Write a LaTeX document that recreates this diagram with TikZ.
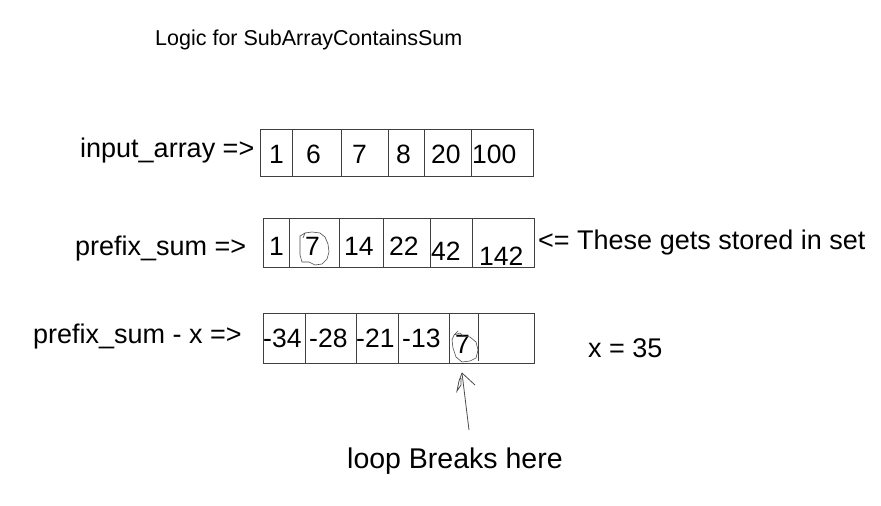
\documentclass[tikz,border=0pt]{standalone}
\usepackage{fontspec}
\setmainfont{Liberation Sans}
\begin{document}
\begin{tikzpicture}[x=1pt,y=-1pt,
  txt/.style={anchor=base west,inner sep=0pt,font=\fontsize{27}{32}\selectfont},
  num/.style={anchor=base west,inner sep=0pt,font=\fontsize{26.5}{32}\selectfont},
  big/.style={anchor=base west,inner sep=0pt,font=\fontsize{28.5}{34}\selectfont},
  ttl/.style={anchor=base west,inner sep=0pt,font=\fontsize{21.5}{26}\selectfont},
  boxline/.style={draw=black!75,line width=0.9pt},
  hand/.style={draw=black!70,line width=0.6pt}]
\useasboundingbox (0,0) rectangle (881,506);
\fill[white] (0,0) rectangle (881,506);

\node[ttl] (title) at (155,45) {Logic for SubArrayContainsSum};

% row 1
\node[txt] (lab1) at (80,157) {input\_array =>};
\draw[boxline] (260,129) rectangle (533,176);
\foreach \xx in {292,341,388,424,471}{\draw[boxline] (\xx,129) -- (\xx,176);}
\node[num] (a1) at (269,163) {1};
\node[num] (a2) at (306,163) {6};
\node[num] (a3) at (352,163) {7};
\node[num] (a4) at (396,163) {8};
\node[num] (a5) at (431,163) {20};
\node[num] (a6) at (472,163) {100};

% row 2
\node[txt] (lab2) at (75,255) {prefix\_sum =>};
\draw[boxline] (263,218) rectangle (534,267);
\foreach \xx in {289,339,383,430,472}{\draw[boxline] (\xx,218) -- (\xx,268);}
\node[num] (b1) at (269,255) {1};
\node[num] (b2) at (305,255) {7};
\node[num] (b3) at (344,255) {14};
\node[num] (b4) at (389,255) {22};
\node[num] (b5) at (431,260) {42};
\node[num] (b6) at (479,265) {142};
\node[txt] (note) at (538,249) {<= These gets stored in set};
\draw[hand] (305,233) -- (312,232) -- (320,233) -- (325,237) -- (328,244) -- (329,252) -- (327,259) -- (322,264) -- (315,265) -- (309,262) -- (302,262) -- (300,255) -- (300,245) -- (300,236) -- (305,233) -- (303,238);

% row 3
\node[txt] (lab3) at (33,343) {prefix\_sum - x =>};
\draw[boxline] (263,313) rectangle (534,363);
\foreach \xx in {305,356,398,449}{\draw[boxline] (\xx,313) -- (\xx,363);}
\draw[boxline] (478,313) -- (478,361);
\node[num] (c1) at (263,347) {-34};
\node[num] (c2) at (309,347) {-28};
\node[num] (c3) at (356,347) {-21};
\node[num] (c4) at (402,347) {-13};
\node[num] (c5) at (455,353) {7};
\draw[hand] (454,335) -- (460,333) -- (463,336) -- (470,337) -- (476,342) -- (478,350) -- (476,358) -- (470,361) -- (462,362) -- (456,357) -- (453,348) -- (452,340) -- (454,335) -- (458,331);

\node[txt] (xval) at (588,357) {x = 35};

% arrow
\coordinate (tip) at (462,373);
\coordinate (tail) at (469,430);
\coordinate (rb) at (475,385);
\draw[black!70,line width=0.8pt] (tail) -- (tip);
\draw[black!70,line width=0.8pt] (tip) -- (459,381) -- (457,391) -- (461,385) -- (461,378);
\draw[black!70,line width=0.8pt] (tip) -- (rb);
\node[big] (loop) at (347,468) {loop Breaks here};
\end{tikzpicture}
\end{document}
